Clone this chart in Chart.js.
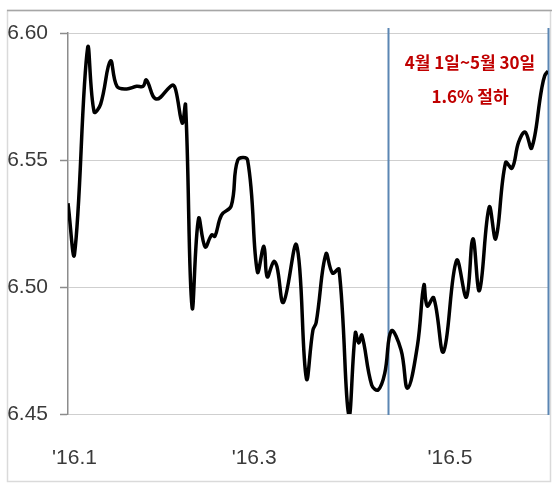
<!DOCTYPE html>
<html>
<head>
<meta charset="utf-8">
<script src="https://cdn.jsdelivr.net/npm/chart.js@4.4.1/dist/chart.umd.min.js"></script>
<style>
    html, body { margin: 0; padding: 0; background: #ffffff; }
    #wrap { width: 552px; height: 486px; }
</style>
</head>
<body>
<div id="wrap"><canvas id="rate-chart" width="552" height="486"></canvas></div>
<script>
/************************************************************/
/*          USD/CNY DAILY RATE, JAN - MAY 2016              */
/************************************************************/

/* day of year (Jan 1 = 1) and the rate on that day */
var rateDays = [4, 6, 10, 12, 14, 17, 19, 22, 25, 27, 28, 31, 36, 37, 39, 40,
    42, 44, 46, 48, 49, 51, 54, 56, 59, 62, 64, 65, 67, 68, 70, 74,
    77, 79, 80, 83, 85, 87, 90, 92, 93, 94, 97, 99, 101, 103, 106, 108,
    111, 113, 114, 116, 119, 123, 126, 128, 130, 133, 135, 138, 140, 142, 144, 146,
    149, 150, 151];
var rateValues = [6.533, 6.513, 6.594, 6.569, 6.572, 6.589, 6.579, 6.578, 6.579, 6.579, 6.5815, 6.574, 6.5795, 6.5775, 6.5645, 6.5717,
    6.492, 6.527, 6.5158, 6.5205, 6.520, 6.5283, 6.532, 6.550, 6.550, 6.506, 6.516, 6.504, 6.510, 6.508, 6.494, 6.5165,
    6.464, 6.483, 6.486, 6.513, 6.5055, 6.507, 6.4496, 6.482, 6.478, 6.481, 6.4614, 6.4595, 6.466, 6.4827, 6.4752, 6.4602,
    6.4768, 6.5008, 6.4925, 6.4957, 6.4745, 6.5105, 6.496, 6.519, 6.4986, 6.5315, 6.519, 6.549, 6.5468, 6.557, 6.561, 6.5547,
    6.5776, 6.5832, 6.585];

/* x axis labels */
var monthTickDays = [6, 61, 121];
var monthTickLabels = ["'16.1", "'16.3", "'16.5"];

/* y axis */
var rateTicks = [6.45, 6.50, 6.55, 6.60];

/* the marked period and its note */
var periodDays = [102, 151];
var periodNote = ['4월 1일~5월 30일', '1.6% 절하'];

/* white page and the thin frame round the chart */
var framePlugin = {
    id: 'frame',
    beforeDraw(chart) {
        var ctx = chart.ctx;
        ctx.save();
        ctx.fillStyle = '#ffffff';
        ctx.fillRect(0, 0, chart.width, chart.height);
        ctx.lineWidth = 1.5;
        ctx.strokeStyle = '#dadada';
        ctx.strokeRect(7.5, 10.5, 543, 471);
        ctx.strokeStyle = '#a6a6a6';
        ctx.beginPath();
        ctx.moveTo(7, 10.5);
        ctx.lineTo(chart.width, 10.5);
        ctx.stroke();
        ctx.restore();
    }
};

/* vertical lines at the start and end of the period */
var periodLinesPlugin = {
    id: 'periodLines',
    beforeDatasetsDraw(chart) {
        var ctx = chart.ctx;
        var x = chart.scales.x;
        var area = chart.chartArea;
        ctx.save();
        ctx.strokeStyle = '#5b86b3';
        ctx.lineWidth = 2;
        for (const d of periodDays) {
            var px = Math.round(x.getPixelForValue(d)) + 0.5;
            ctx.beginPath();
            ctx.moveTo(px, 28);
            ctx.lineTo(px, area.bottom + 1);
            ctx.stroke();
        }
        ctx.restore();
    }
};

/* red note above the period */
var notePlugin = {
    id: 'note',
    afterDraw(chart) {
        var ctx = chart.ctx;
        ctx.save();
        ctx.fillStyle = '#c00000';
        ctx.font = 'bold 17px "Noto Sans CJK KR"';
        ctx.textAlign = 'center';
        ctx.textBaseline = 'middle';
        ctx.fillText(periodNote[0], 470, 63);
        ctx.fillText(periodNote[1], 470, 97);
        ctx.restore();
    }
};

/* Init the rate chart */
function initRateChart() {
    var ctx = document.getElementById('rate-chart');
    var points = rateDays.map((d, i) => ({x: d, y: rateValues[i]}));

    var rateChart = new Chart(ctx, {
        type: 'line',
        data: {
            datasets: [{
                data: points,
                borderColor: '#000000',
                borderWidth: 3.5,
                pointRadius: 0,
                tension: 0.4,
                fill: false
            }]
        },
        options: {
            responsive: false,
            animation: false,
            layout: {
                padding: {top: 33, right: 4, left: 0, bottom: 0}
            },
            plugins: {
                legend: {display: false},
                tooltip: {enabled: false}
            },
            scales: {
                x: {
                    type: 'linear',
                    min: rateDays[0],
                    max: periodDays[1],
                    grid: {display: false, drawTicks: false},
                    border: {display: false},
                    afterBuildTicks: (scale) => {
                        scale.ticks = monthTickDays.map(v => ({value: v}));
                    },
                    afterFit: (scale) => {
                        scale.height = 72;
                    },
                    ticks: {
                        autoSkip: false,
                        maxRotation: 0,
                        padding: 32,
                        color: '#3a3a3a',
                        font: {family: 'Liberation Sans', size: 21},
                        callback: (value) => monthTickLabels[monthTickDays.indexOf(value)]
                    }
                },
                y: {
                    min: rateTicks[0],
                    max: rateTicks[rateTicks.length - 1],
                    afterBuildTicks: (scale) => {
                        scale.ticks = rateTicks.map(v => ({value: v}));
                    },
                    afterFit: (scale) => {
                        scale.width = 68;
                    },
                    border: {display: true, color: '#8c8c8c', width: 1.5},
                    grid: {
                        color: '#cfcfcf',
                        lineWidth: 1,
                        borderDash: [6, 4],
                        tickLength: 8,
                        tickColor: '#8c8c8c',
                        tickBorderDash: [],
                        tickWidth: 1.5
                    },
                    ticks: {
                        padding: 12,
                        color: '#3a3a3a',
                        font: {family: 'Liberation Sans', size: 21},
                        callback: (value) => value.toFixed(2)
                    }
                }
            }
        },
        plugins: [framePlugin, periodLinesPlugin, notePlugin]
    });

    return rateChart;
}

var rateChart = initRateChart();
</script>
</body>
</html>
